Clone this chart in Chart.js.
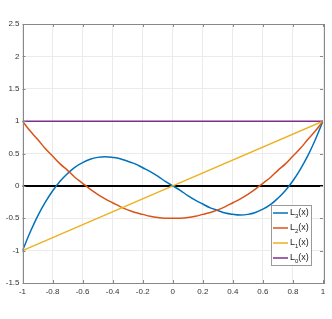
<!DOCTYPE html>
<html>
<head>
<meta charset="utf-8">
<script src="https://cdn.jsdelivr.net/npm/chart.js@4"></script>
<style>
  html, body { margin: 0; padding: 0; background: #fff; }
  #wrap { width: 332px; height: 319px; }
</style>
</head>
<body>
<div id="wrap"><canvas id="chart" width="332" height="319"></canvas></div>
<script>
// sample points along x
var xs = [-1, -0.95, -0.9, -0.85, -0.8, -0.75, -0.7, -0.65, -0.6, -0.55, -0.5,
  -0.45, -0.4, -0.35, -0.3, -0.25, -0.2, -0.15, -0.1, -0.05, 0,
  0.05, 0.1, 0.15, 0.2, 0.25, 0.3, 0.35, 0.4, 0.45, 0.5,
  0.55, 0.6, 0.65, 0.7, 0.75, 0.8, 0.85, 0.9, 0.95, 1];

// values
var l3 = [-1, -0.72, -0.47, -0.26, -0.08, 0.07, 0.19, 0.29, 0.36, 0.41, 0.44,
  0.45, 0.44, 0.42, 0.38, 0.34, 0.28, 0.22, 0.15, 0.07, 0,
  -0.07, -0.15, -0.22, -0.28, -0.34, -0.38, -0.42, -0.44, -0.45, -0.44,
  -0.41, -0.36, -0.29, -0.19, -0.07, 0.08, 0.26, 0.47, 0.72, 1];
var l2 = [1, 0.85, 0.72, 0.58, 0.46, 0.34, 0.24, 0.13, 0.04, -0.05, -0.13,
  -0.2, -0.26, -0.32, -0.37, -0.41, -0.44, -0.47, -0.49, -0.5, -0.5,
  -0.5, -0.49, -0.47, -0.44, -0.41, -0.37, -0.32, -0.26, -0.2, -0.13,
  -0.05, 0.04, 0.13, 0.24, 0.34, 0.46, 0.58, 0.72, 0.85, 1];
var l1x = [-1, 1];
var l1 = [-1, 1];
var l0x = [-1, 1];
var l0 = [1, 1];
var zeroX = [-1, 1];
var zeroY = [0, 0];

var xTicks = [-1, -0.8, -0.6, -0.4, -0.2, 0, 0.2, 0.4, 0.6, 0.8, 1];
var yTicks = [-1.5, -1, -0.5, 0, 0.5, 1, 1.5, 2, 2.5];

var legendNames = [['L', '3', '(x)'], ['L', '2', '(x)'], ['L', '1', '(x)'], ['L', '0', '(x)']];
var colors = ['#0072BD', '#D95319', '#EDB120', '#7E2F8E'];

function pts(x, y) {
  return x.map(function(v, i) { return { x: v, y: y[i] }; });
}

// box + inward ticks on all four sides
var boxPlugin = {
  id: 'box',
  afterDatasetsDraw: function(chart) {
    var ctx = chart.ctx, a = chart.chartArea;
    var xs_ = chart.scales.x, ys_ = chart.scales.y;
    ctx.save();
    ctx.strokeStyle = '#888';
    ctx.lineWidth = 1;
    ctx.beginPath();
    xTicks.forEach(function(t) {
      var px = Math.round(xs_.getPixelForValue(t)) + 0.5;
      ctx.moveTo(px, a.bottom); ctx.lineTo(px, a.bottom - 3);
      ctx.moveTo(px, a.top); ctx.lineTo(px, a.top + 3);
    });
    yTicks.forEach(function(t) {
      var py = Math.round(ys_.getPixelForValue(t)) + 0.5;
      ctx.moveTo(a.left, py); ctx.lineTo(a.left + 3, py);
      ctx.moveTo(a.right, py); ctx.lineTo(a.right - 3, py);
    });
    ctx.stroke();
    ctx.strokeRect(Math.round(a.left) + 0.5, Math.round(a.top) + 0.5,
      Math.round(a.right - a.left), Math.round(a.bottom - a.top));
    ctx.restore();
  },
  afterDraw: function(chart) {
    // legend with subscripts
    var ctx = chart.ctx;
    var bx = 271.5, by = 205.5, bw = 40, bh = 60;
    ctx.save();
    ctx.fillStyle = '#fff';
    ctx.fillRect(bx, by, bw, bh);
    ctx.strokeStyle = '#999';
    ctx.lineWidth = 1;
    ctx.strokeRect(bx, by, bw, bh);
    legendNames.forEach(function(n, i) {
      var cy = 213 + i * 15;
      ctx.strokeStyle = colors[i];
      ctx.lineWidth = 1.5;
      ctx.beginPath();
      ctx.moveTo(273, cy); ctx.lineTo(288, cy);
      ctx.stroke();
      ctx.fillStyle = '#222';
      ctx.textBaseline = 'middle';
      ctx.font = '9px "Liberation Sans", Arial, sans-serif';
      ctx.fillText(n[0], 290, cy);
      var w = ctx.measureText(n[0]).width;
      ctx.font = '6px "Liberation Sans", Arial, sans-serif';
      ctx.fillText(n[1], 290 + w, cy + 3);
      var w2 = ctx.measureText(n[1]).width;
      ctx.font = '9px "Liberation Sans", Arial, sans-serif';
      ctx.fillText(n[2], 290 + w + w2, cy);
    });
    ctx.restore();
  }
};

var ds = function(label, data, color, width) {
  return {
    label: label, data: data, borderColor: color, backgroundColor: color,
    borderWidth: width, pointRadius: 0, tension: 0.4, fill: false
  };
};

new Chart(document.getElementById('chart'), {
  type: 'line',
  data: {
    datasets: [
      ds('L0', pts(l0x, l0), colors[3], 1.5),
      ds('L1', pts(l1x, l1), colors[2], 1.5),
      ds('L2', pts(xs, l2), colors[1], 1.5),
      ds('L3', pts(xs, l3), colors[0], 1.5),
      ds('zero', pts(zeroX, zeroY), '#000', 2)
    ]
  },
  options: {
    responsive: false,
    animation: false,
    layout: { padding: { left: 0, top: 24, right: 9, bottom: 22 } },
    plugins: { legend: { display: false }, tooltip: { enabled: false } },
    scales: {
      x: {
        type: 'linear', min: -1, max: 1,
        afterBuildTicks: function(s) { s.ticks = xTicks.map(function(v) { return { value: v }; }); },
        afterFit: function(s) { s.height = 14; },
        grid: { color: '#ebebeb', drawTicks: false },
        border: { display: false },
        ticks: {
          color: '#333', padding: 4,
          font: { family: '"Liberation Sans", Arial, sans-serif', size: 8 },
          maxRotation: 0,
          callback: function(v) { return String(v); }
        }
      },
      y: {
        type: 'linear', min: -1.5, max: 2.5,
        afterBuildTicks: function(s) { s.ticks = yTicks.map(function(v) { return { value: v }; }); },
        afterFit: function(s) { s.width = 22.5; },
        grid: { color: '#ebebeb', drawTicks: false },
        border: { display: false },
        ticks: {
          color: '#333', padding: 3,
          font: { family: '"Liberation Sans", Arial, sans-serif', size: 8 },
          callback: function(v) { return String(v); }
        }
      }
    }
  },
  plugins: [boxPlugin]
});
</script>
</body>
</html>
